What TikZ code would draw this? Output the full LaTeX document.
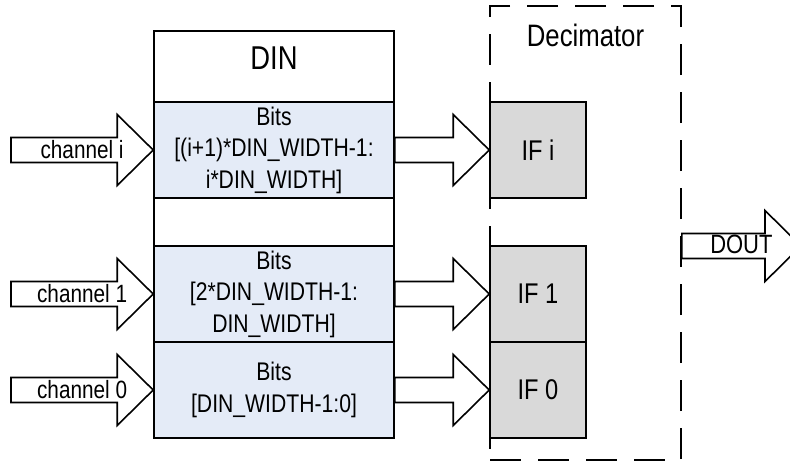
\documentclass[tikz,border=0pt]{standalone}
\usepackage{fontspec}
\setmainfont{Liberation Sans}[FakeStretch=0.83]
\usetikzlibrary{calc}
\definecolor{bits_blue}{RGB}{228, 235, 247}
\definecolor{if_grey}{RGB}{217, 217, 217}
\tikzstyle{bn}=[rectangle,fill=bits_blue,draw=black,line width=1.6pt,
  minimum width=240pt,minimum height=96pt,inner sep=0pt,align=center,
  font=\fontsize{25.5}{31.5}\selectfont]
\tikzstyle{fn}=[rectangle,fill=if_grey,draw=black,line width=1.6pt,
  minimum width=96pt,minimum height=96pt,inner sep=0pt,
  font=\fontsize{28.5}{33}\selectfont]
\tikzstyle{an}=[fill=white,draw=black,line width=1.6pt,line join=miter]
\tikzstyle{ln}=[inner sep=0pt,font=\fontsize{25}{30}\selectfont]
\newcommand{\fatarrow}[2]{%
  \draw[an] let \p1=#1, \p2=#2 in
    (\x1,\y2+12.5pt) -- (\x2-36pt,\y2+12.5pt) -- (\x2-36pt,\y2+35.5pt)
    -- (\x2,\y2) -- (\x2-36pt,\y2-35.5pt) -- (\x2-36pt,\y2-12.5pt)
    -- (\x1,\y2-12.5pt) -- cycle;}

\begin{document}
\begin{tikzpicture}[x=1pt,y=-1pt]
            \path[clip,use as bounding box] (0,0) rectangle (790,461);
            % input memory
            \node [draw=black,line width=1.6pt,minimum width=240pt,minimum height=407pt] (din) at (274,234.5) {};
            \node [inner sep=0pt,font=\fontsize{33}{38}\selectfont] (dint) at (274,58.5) {DIN};
            \node [style=bn] (bi) at (274,150) {Bits\\{[}(i+1)*DIN\_WIDTH-1:\\i*DIN\_WIDTH]};
            \node [style=bn] (b1) at (274,294) {Bits\\{[}2*DIN\_WIDTH-1:\\DIN\_WIDTH]};
            \node [style=bn] (b0) at (274,390) {Bits\\{[}DIN\_WIDTH-1:0]};
            % decimator
            \node [draw=black,line width=1.6pt,dash pattern=on 31pt off 17pt,minimum width=191pt,minimum height=454pt] (dec) at (585.5,233) {};
            \node [inner sep=0pt,font=\fontsize{31}{36}\selectfont] (dect) at (585.5,35.5) {Decimator};
            \node [style=fn] (fi) at (538,150) {IF i};
            \node [style=fn] (f1) at (538,294) {IF 1};
            \node [style=fn] (f0) at (538,390) {IF 0};
            % inputs
            \coordinate (ci) at (11,150);
            \coordinate (c1) at (11,294);
            \coordinate (c0) at (11,390);
            \fatarrow{(ci)}{(bi.west)}
            \fatarrow{(c1)}{(b1.west)}
            \fatarrow{(c0)}{(b0.west)}
            \node [style=ln] (li) at ($(ci)!0.5!(bi.west)$) {channel i};
            \node [style=ln] (l1) at ($(c1)!0.5!(b1.west)$) {channel 1};
            \node [style=ln] (l0) at ($(c0)!0.5!(b0.west)$) {channel 0};
            % bits to filters
            \fatarrow{(bi.east)}{(fi.west)}
            \fatarrow{(b1.east)}{(f1.west)}
            \fatarrow{(b0.east)}{(f0.west)}
            % output
            \coordinate (dl) at (dec.east |- 0,246);
            \coordinate (dout) at (801,246);
            \fatarrow{(dl)}{(dout)}
            \node [inner sep=0pt,font=\fontsize{26.5}{31}\selectfont] (lo) at ($(dl)!0.5!(dout)+(0,-2)$) {DOUT};
    \end{tikzpicture}
\end{document}
